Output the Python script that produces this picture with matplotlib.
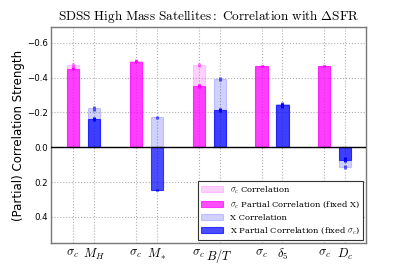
import matplotlib
matplotlib.use("Agg")
import matplotlib.pyplot as plt
import numpy as np

plt.rcParams['mathtext.fontset'] = 'cm'

groups = ["$M_H$", "$M_*$", "$B/T$", "$\\delta_5$", "$D_c$"]
sig_corr = [-0.473, -0.497, -0.473, -0.467, -0.467]
sig_corr_err = [0.010, 0.008, 0.010, 0.008, 0.008]
sig_part = [-0.452, -0.492, -0.352, -0.467, -0.467]
sig_part_err = [0.010, 0.008, 0.010, 0.008, 0.008]
x_corr = [-0.223, -0.173, -0.392, -0.250, 0.113]
x_corr_err = [0.012, 0.008, 0.010, 0.012, 0.014]
x_part = [-0.162, 0.245, -0.215, -0.240, 0.072]
x_part_err = [0.010, 0.008, 0.010, 0.012, 0.014]

fig = plt.figure(figsize=(4.07, 2.71), dpi=100)
ax = fig.add_axes([0.125, 0.103, 0.775, 0.797])

n = len(groups)
xs = np.arange(n) * 3.0
xx = xs + 1.0
w = 0.58

ax.bar(xs, sig_corr, w, color='magenta', alpha=0.18, edgecolor='magenta', linewidth=0.8,
       align='center', label='$\\sigma_c$ Correlation', zorder=2)
ax.errorbar(xs, sig_corr, yerr=sig_corr_err, fmt='none', ecolor='magenta', alpha=0.5, elinewidth=2.2, zorder=3)
ax.bar(xs, sig_part, w, color='magenta', alpha=0.7, edgecolor='magenta', linewidth=0.8,
       label='$\\sigma_c$ Partial Correlation (fixed X)', zorder=2)
ax.errorbar(xs, sig_part, yerr=sig_part_err, fmt='none', ecolor='magenta', elinewidth=2.2, zorder=3)
ax.bar(xx, x_corr, w, color='blue', alpha=0.18, edgecolor='blue', linewidth=0.8,
       label='X Correlation', zorder=2)
ax.errorbar(xx, x_corr, yerr=x_corr_err, fmt='none', ecolor='blue', alpha=0.6, elinewidth=2.2, zorder=3)
ax.bar(xx, x_part, w, color='blue', alpha=0.7, edgecolor='blue', linewidth=0.8,
       label='X Partial Correlation (fixed $\\sigma_c$)', zorder=2)
ax.errorbar(xx, x_part, yerr=x_part_err, fmt='none', ecolor='blue', elinewidth=2.2, zorder=3)

ax.axhline(0, color='black', linewidth=1.0, zorder=4)

ticks = []
labels = []
for i in range(n):
    ticks += [xs[i], xx[i]]
    labels += ["$\\sigma_c$", groups[i]]
ax.set_xticks(ticks)
ax.set_xticklabels(labels, fontsize=9)
ax.set_xlim(-1.05, 14.0)
ax.set_ylim(0.55, -0.69)
ax.set_yticks([-0.6, -0.4, -0.2, 0.0, 0.2, 0.4])
ax.set_yticklabels(["\u22120.6", "\u22120.4", "\u22120.2", "0.0", "0.2", "0.4"], fontsize=6.2)
ax.tick_params(axis='both', direction='in', length=0, color='#555555')
ax.tick_params(axis='x', pad=3)
ax.tick_params(axis='y', pad=2)
ax.grid(True, linestyle=':', color='#b0b0b0', linewidth=0.8, zorder=0)
ax.set_axisbelow(True)
for s in ax.spines.values():
    s.set_color('#777777')
    s.set_linewidth(1.0)

ax.set_ylabel("(Partial) Correlation Strength", fontsize=8.5)
ax.yaxis.set_label_coords(-0.082, 0.5)
ax.set_title("$\\mathrm{SDSS\\ High\\ Mass\\ Satellites:\\ Correlation\\ with\\ \\Delta SFR}$",
             fontsize=9.5, pad=5)

leg = ax.legend(loc='lower right', prop={'family': 'DejaVu Serif', 'size': 6.0},
                fancybox=False, framealpha=1, borderaxespad=0.4, handlelength=2.6,
                labelspacing=0.45)
leg.get_frame().set_edgecolor('#333333')
leg.get_frame().set_linewidth(0.8)

fig.savefig("out.png", dpi=100)
